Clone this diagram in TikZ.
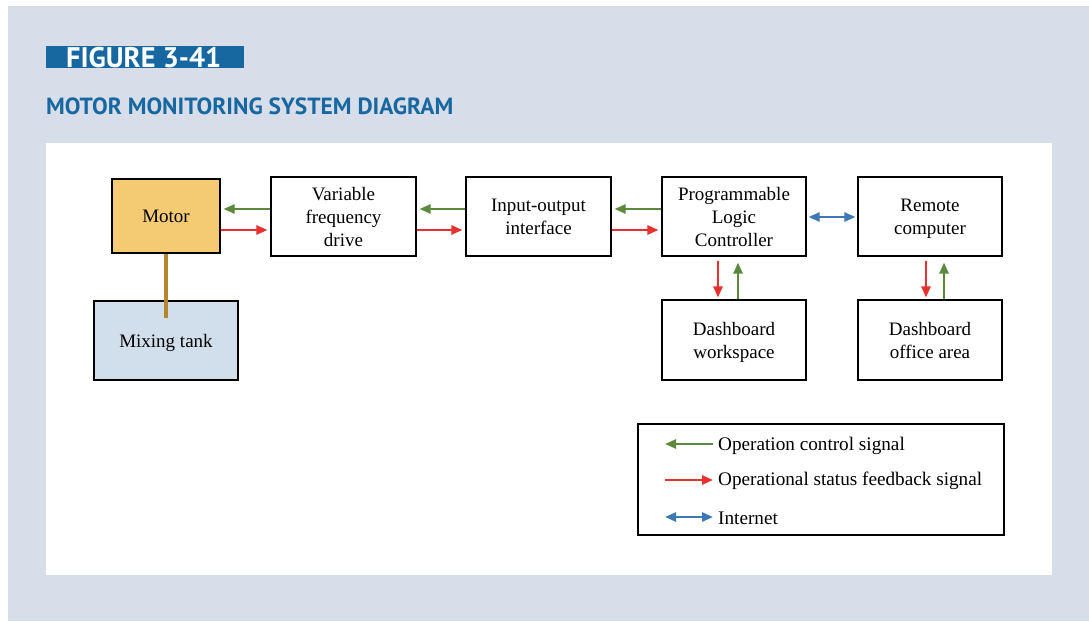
\documentclass[tikz,border=0pt]{standalone}
\usepackage{fontspec}
\setmainfont{Liberation Serif}
\newfontfamily\headfont{PT Sans}
\usetikzlibrary{arrows.meta}
\newcommand\bstr{\rule[-4.9pt]{0pt}{23pt}}
\definecolor{bggray}{HTML}{D8DEE9}
\definecolor{headblue}{HTML}{1767A0}
\definecolor{motorfill}{HTML}{F4CB73}
\definecolor{tankfill}{HTML}{D1DFEC}
\definecolor{shaft}{HTML}{B5862F}
\definecolor{ctrlgreen}{HTML}{5B8A3C}
\definecolor{fbred}{HTML}{E8302C}
\definecolor{netblue}{HTML}{3C78B3}
\tikzset{
  blk/.style={draw=black, line width=1.1pt, fill=white, align=center, inner sep=0pt,
    font=\fontsize{19}{23}\selectfont},
  tip/.tip={Triangle[length=11pt,width=9pt]},
  ctrl/.style={draw=ctrlgreen, line width=2.4pt, -tip},
  fb/.style={draw=fbred, line width=2.4pt, -tip},
  net/.style={draw=netblue, line width=2.4pt, tip-tip},
  legtext/.style={anchor=west, inner sep=0pt, font=\fontsize{19.2}{20}\selectfont}
}
\begin{document}
\begin{tikzpicture}[x=1pt,y=-1pt]
\useasboundingbox (0,0) rectangle (1089,621);
\fill[white] (0,0) rectangle (1089,621);
\fill[bggray] (8,6) rectangle (1089,621);
\fill[white] (46,143) rectangle (1052,575);
% header
\fill[headblue] (46,46) rectangle (244,68);
\node[anchor=west, inner sep=0pt, text=white] (fig) at (66,57.5)
  {\resizebox{155pt}{!}{\headfont\bfseries\fontsize{24}{24}\selectfont FIGURE 3-41}};
\node[anchor=west, inner sep=0pt, text=headblue] (title) at (46,106)
  {\resizebox{407pt}{!}{\headfont\bfseries\fontsize{22}{22}\selectfont MOTOR MONITORING SYSTEM DIAGRAM}};
% boxes
\node[blk, fill=motorfill, minimum width=108pt, minimum height=74pt] (motor) at (166,216) {\bstr Motor};
\node[blk, fill=tankfill, minimum width=144pt, minimum height=79pt] (tank) at (166,340.5) {\bstr Mixing tank};
\node[blk, minimum width=145pt, minimum height=79pt] (vfd) at (343.5,216.5) {\bstr Variable\\\bstr frequency\\\bstr drive};
\node[blk, minimum width=145pt, minimum height=79pt] (io) at (538.5,216.5) {\bstr Input-output\\\bstr interface};
\node[blk, minimum width=144pt, minimum height=79pt] (plc) at (734,216.5) {\bstr Programmable\\\bstr Logic\\\bstr Controller};
\node[blk, minimum width=144pt, minimum height=79pt] (rc) at (930,216.5) {\bstr Remote\\\bstr computer};
\node[blk, minimum width=144pt, minimum height=80pt] (dw) at (734,340) {\bstr Dashboard\\\bstr workspace};
\node[blk, minimum width=144pt, minimum height=80pt] (do) at (930,340) {\bstr Dashboard\\\bstr office area};
% shaft
\coordinate (shaftend) at (166,318);
\draw[shaft, line width=4pt] (motor.south) -- (shaftend);
% horizontal signals
\draw[ctrl] (vfd.west |- 0,209) -- ([xshift=3pt]motor.east |- 0,209);
\draw[fb] (motor.east |- 0,230) -- ([xshift=-3pt]vfd.west |- 0,230);
\draw[ctrl] (io.west |- 0,209) -- ([xshift=3pt]vfd.east |- 0,209);
\draw[fb] (vfd.east |- 0,230) -- ([xshift=-3pt]io.west |- 0,230);
\draw[ctrl] (plc.west |- 0,209) -- ([xshift=3pt]io.east |- 0,209);
\draw[fb] (io.east |- 0,230) -- ([xshift=-3pt]plc.west |- 0,230);
\draw[net] ([xshift=2pt]plc.east |- 0,217) -- ([xshift=-2pt]rc.west |- 0,217);
% vertical signals
\draw[fb] ([yshift=-4pt]plc.south -| 718,0) -- ([yshift=2pt]dw.north -| 718,0);
\draw[ctrl] (dw.north -| 738,0) -- ([yshift=-6pt]plc.south -| 738,0);
\draw[fb] ([yshift=-4pt]rc.south -| 926,0) -- ([yshift=2pt]do.north -| 926,0);
\draw[ctrl] (do.north -| 944,0) -- ([yshift=-6pt]rc.south -| 944,0);
% legend
\node[draw=black, line width=1.1pt, minimum width=366pt, minimum height=111pt, inner sep=0pt] (legend) at (821,479.5) {};
\coordinate (l1a) at (665,444); \coordinate (l1b) at (713,444);
\coordinate (l2a) at (665,480); \coordinate (l2b) at (713,480);
\coordinate (l3a) at (665,517); \coordinate (l3b) at (713,517);
\draw[ctrl] (l1b) -- (l1a);
\draw[fb] (l2a) -- (l2b);
\draw[net] (l3a) -- (l3b);
\node[legtext] (t1) at (718,446) {Operation control signal};
\node[legtext] (t2) at (718,481) {Operational status feedback signal};
\node[legtext] (t3) at (718,518) {Internet};
\end{tikzpicture}
\end{document}
